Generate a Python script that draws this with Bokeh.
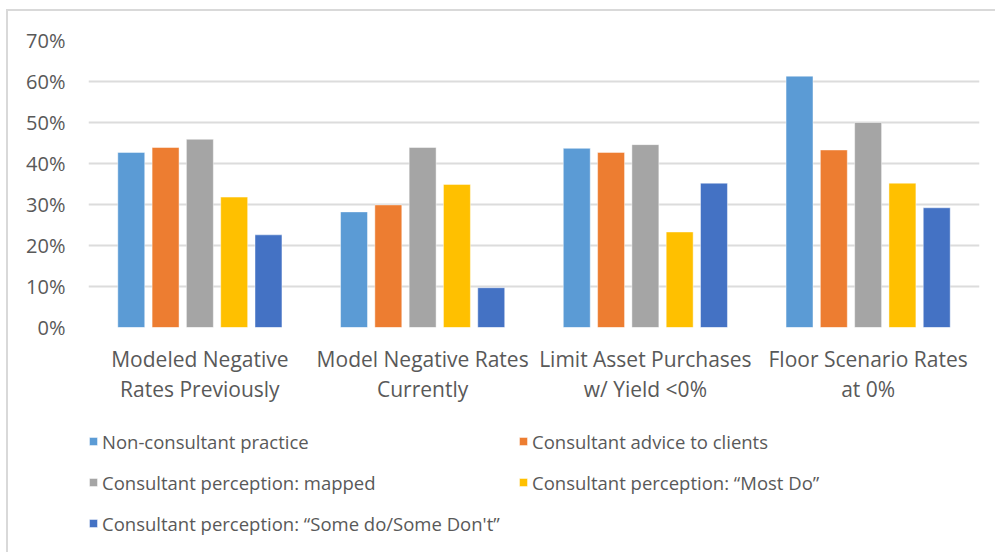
from bokeh.plotting import figure
from bokeh.layouts import column
from bokeh.models import (ColumnDataSource, FactorRange, Range1d, FixedTicker,
                          PrintfTickFormatter, Legend, LegendItem)
from bokeh.transform import dodge
from bokeh.embed import file_html
from bokeh.resources import INLINE

# Scenario categories (two-line labels on the x axis)
categories = [
    "Modeled Negative\nRates Previously",
    "Model Negative Rates\nCurrently",
    "Limit Asset Purchases\nw/ Yield <0%",
    "Floor Scenario Rates\nat 0%",
]

# Share of respondents, in percent
non_consultant = [42.7, 28.2, 43.7, 61.3]
consultant_advice = [43.9, 29.9, 42.7, 43.3]
perception_mapped = [45.9, 43.9, 44.6, 50.0]
perception_most_do = [31.8, 34.9, 23.3, 35.2]
perception_some_do = [22.6, 9.7, 35.2, 29.2]

series_labels = [
    "Non-consultant practice",
    "Consultant advice to clients",
    "Consultant perception: mapped",
    "Consultant perception: \u201cMost Do\u201d",
    "Consultant perception: \u201cSome do/Some Don't\u201d",
]
series_colors = ["#5B9BD5", "#ED7D31", "#A5A5A5", "#FFC000", "#4472C4"]

y_ticks = [0, 10, 20, 30, 40, 50, 60, 70]

FONT = "Open Sans"
TEXT_COLOR = "#595959"
BAR_WIDTH = 0.121
OFFSETS = [-0.308, -0.154, 0.0, 0.154, 0.308]

source = ColumnDataSource(data=dict(
    cat=categories,
    s0=non_consultant,
    s1=consultant_advice,
    s2=perception_mapped,
    s3=perception_most_do,
    s4=perception_some_do,
))


def add_bars(fig, visible=True):
    rs = []
    for i, (off, color) in enumerate(zip(OFFSETS, series_colors)):
        rs.append(fig.vbar(x=dodge("cat", off, range=fig.x_range), top=f"s{i}",
                           width=BAR_WIDTH, source=source, fill_color=color,
                           line_color="white", line_alpha=0.45, line_width=1,
                           visible=visible))
    return rs


# ---- main chart ----
p = figure(
    width=989, height=400,
    x_range=FactorRange(factors=categories, range_padding=0),
    y_range=Range1d(0, 70),
    output_backend="svg",
    toolbar_location=None,
    min_border_left=82, min_border_right=16,
    min_border_top=31, min_border_bottom=82,
)
p.border_fill_alpha = 0
p.background_fill_color = "white"
p.outline_line_color = None
add_bars(p)

# y axis
p.yaxis.ticker = FixedTicker(ticks=y_ticks)
p.yaxis.formatter = PrintfTickFormatter(format="%d%%")
p.yaxis.axis_line_color = None
p.yaxis.major_tick_line_color = None
p.yaxis.minor_tick_line_color = None
p.yaxis.major_tick_out = 0
p.yaxis.major_tick_in = 0
p.yaxis.major_label_standoff = 23
p.yaxis.major_label_text_font = FONT
p.yaxis.major_label_text_font_size = "20px"
p.yaxis.major_label_text_color = TEXT_COLOR

# x axis
p.xaxis.axis_line_color = None
p.xaxis.major_tick_line_color = None
p.xaxis.minor_tick_line_color = None
p.xaxis.major_tick_out = 0
p.xaxis.major_tick_in = 0
p.xaxis.major_label_standoff = 17
p.xaxis.major_label_text_font = FONT
p.xaxis.major_label_text_font_size = "21px"
p.xaxis.major_label_text_color = TEXT_COLOR
p.xaxis.major_label_text_line_height = 1.1

# grid
p.xgrid.grid_line_color = None
p.ygrid.grid_line_color = "#DCDCDC"
p.ygrid.grid_line_width = 2

# ---- legend strip: hidden copies of the bar series supply the legend keys ----
lg = figure(
    width=989, height=143,
    x_range=FactorRange(factors=categories, range_padding=0),
    y_range=Range1d(-2, -1),
    x_axis_type=None, y_axis_type=None,
    output_backend="svg",
    toolbar_location=None,
    min_border=0, min_border_left=82, min_border_right=16,
)
lg.border_fill_alpha = 0
lg.background_fill_alpha = 0
lg.outline_line_color = None
lg.grid.visible = False
keys = add_bars(lg, visible=False)


def make_legend(indices, loc):
    items = [LegendItem(label=series_labels[i], renderers=[keys[i]]) for i in indices]
    leg = Legend(items=items, location=loc, orientation="vertical")
    leg.padding = 0
    leg.margin = 0
    leg.spacing = 0
    leg.glyph_width = 10
    leg.glyph_height = 10
    leg.label_height = 41
    leg.label_standoff = 4
    leg.label_text_font = FONT
    leg.label_text_font_size = "18.5px"
    leg.label_text_color = TEXT_COLOR
    leg.border_line_color = None
    leg.background_fill_alpha = 0
    return leg


lg.add_layout(make_legend([0, 2, 4], (0, 8.5)))
lg.add_layout(make_legend([1, 3], (430, 49.5)))

layout = column(p, lg, spacing=0)
layout.margin = (9, 0, 0, 6)
layout.styles = {"box-shadow": "inset 2px 2px 0 #D9D9D9"}

open("out.html", "w").write(file_html(layout, INLINE))
